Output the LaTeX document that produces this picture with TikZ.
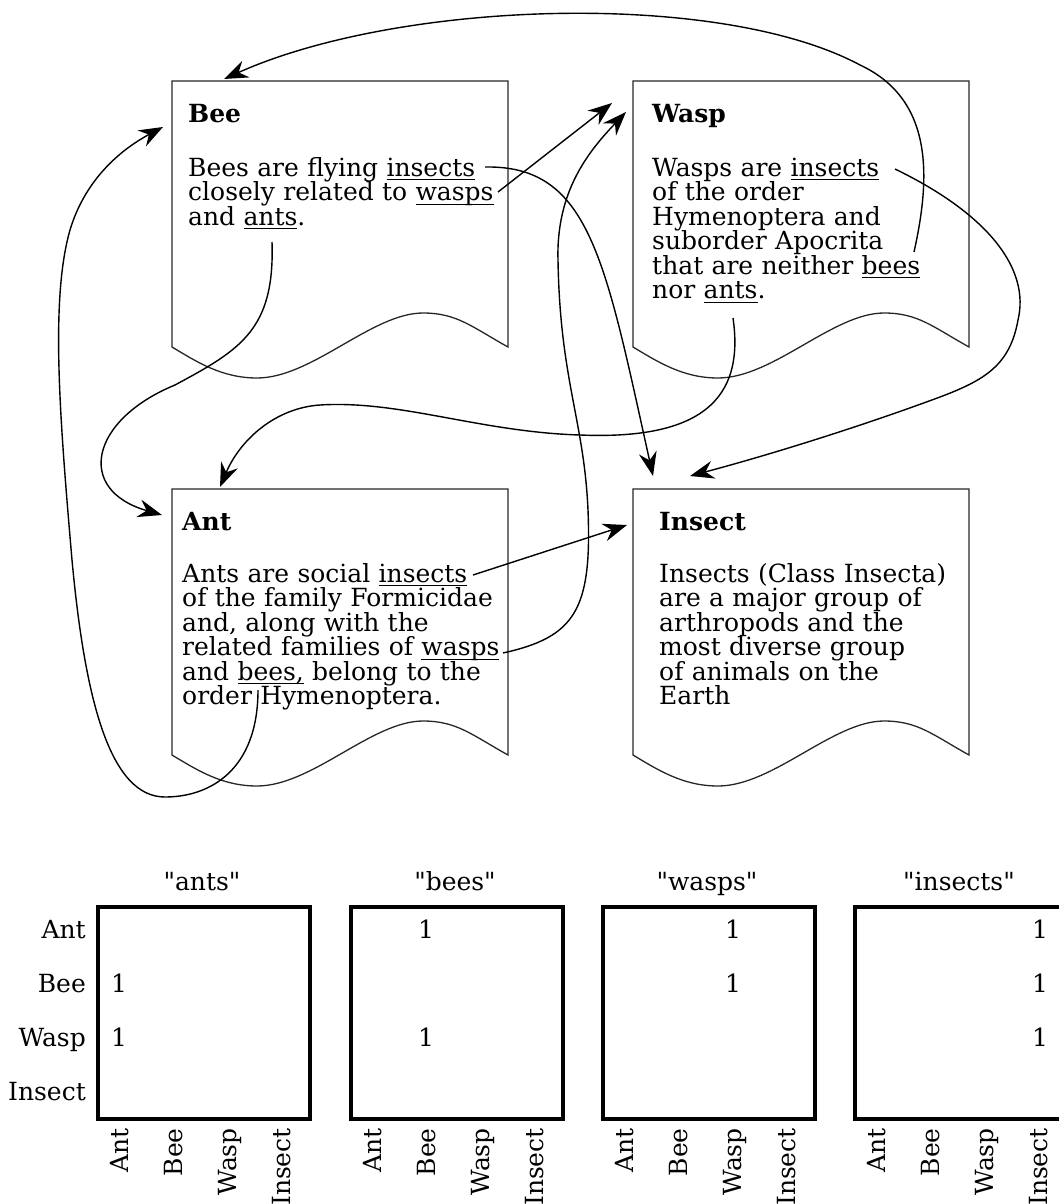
\documentclass[tikz,border=0pt]{standalone}
\usepackage{fontspec}
\setmainfont{DejaVu Serif}
\usetikzlibrary{arrows.meta}
\newcommand\docsize{\fontsize{25}{24.5}\selectfont\lineskiplimit=-50pt\relax}
% underlined link word: a thin rule just under the baseline
\newcommand\linkword[1]{\setbox0=\hbox{#1}\rlap{\rule[-4.2pt]{\wd0}{1.2pt}}\box0\relax}
\begin{document}
\begin{tikzpicture}[x=1pt,y=-1pt,
  docline/.style={draw=black!85, line width=1.3pt, line join=miter},
  docarea/.style={anchor=north west, minimum width=336pt, minimum height=266pt, inner sep=0pt},
  doctitle/.style={font=\bfseries\docsize, anchor=base west, inner sep=0pt},
  docbody/.style={font=\docsize, anchor=base west, inner sep=0pt, text width=340pt, align=left},
  link/.style={draw=black, line width=1.4pt, -{Stealth[length=24pt,width=18pt,inset=8pt]}},
  mbox/.style={draw=black, line width=3.5pt, anchor=north west, minimum width=212pt, minimum height=212pt, inner sep=0pt},
  mtext/.style={font=\docsize, inner sep=0pt},
  paper/.pic={
    \draw[docline] (0,266) -- (0,0) -- (336,0) -- (336,266)
      .. controls (300,246) and (285,232) .. (251,232)
      .. controls (200,232) and (140,297) .. (85,297)
      .. controls (50,297) and (25,281) .. cycle;
  }]
\useasboundingbox (0,0) rectangle (1059,1204);

% ---------- the four documents ----------
\node[docarea] (bee) at (172,81) {};
\node[docarea] (wasp) at (633,81) {};
\node[docarea] (ant) at (172,489) {};
\node[docarea] (insect) at (633,489) {};
\path (bee.north west) pic {paper};
\path (wasp.north west) pic {paper};
\path (ant.north west) pic {paper};
\path (insect.north west) pic {paper};

\node[doctitle] (beeT) at (188,123) {Bee};
\node[docbody] (beeB) at (188,176) {Bees are flying \linkword{insects}\\closely related to \linkword{wasps}\\and \linkword{ants}.};

\node[doctitle] (waspT) at (652,123) {Wasp};
\node[docbody] (waspB) at (652,176) {Wasps are \linkword{insects}\\of the order\\Hymenoptera and\\suborder Apocrita\\that are neither \linkword{bees}\\nor \linkword{ants}.};

\node[doctitle] (antT) at (182,530) {Ant};
\node[docbody] (antB) at (182,582) {Ants are social \linkword{insects}\\of the family Formicidae\\and, along with the\\related families of \linkword{wasps}\\and \linkword{bees,} belong to the\\order Hymenoptera.};

\node[doctitle] (insectT) at (659,530) {Insect};
\node[docbody] (insectB) at (659,582) {Insects (Class Insecta)\\are a major group of\\arthropods and the\\most diverse group\\of animals on the\\Earth};

% ---------- link ends ----------
\coordinate (bIns) at (485,167);
\coordinate (bWas) at (498,192);
\coordinate (bAnt) at (272,242);
\coordinate (wIns) at (895,169);
\coordinate (wBee) at (914,252);
\coordinate (wAnt) at (733,318);
\coordinate (aIns) at (473,575);
\coordinate (aWas) at (503,653);
\coordinate (aBee) at (258,690);

\coordinate (toInsA) at (653,476);
\coordinate (toInsB) at (690,476);
\coordinate (toInsC) at (627,525);
\coordinate (toWasA) at (612,103);
\coordinate (toWasB) at (626,112);
\coordinate (toBeeA) at (224,79);
\coordinate (toBeeB) at (163,127);
\coordinate (toAntA) at (220,487);
\coordinate (toAntB) at (162,515);

% ---------- links ----------
\draw[link] (bIns) .. controls (590,165) and (605,260) .. (toInsA);
\draw[link] (bWas) -- (toWasA);
\draw[link] (bAnt) .. controls (275,330) and (240,350) .. (175,385)
                   .. controls (90,420) and (75,490) .. (toAntB);
\draw[link] (wBee) .. controls (930,180) and (935,100) .. (860,65)
                   .. controls (720,-10) and (400,0) .. (toBeeA);
\draw[link] (wIns) .. controls (990,215) and (1030,270) .. (1018,320)
                   .. controls (1010,365) and (985,380) .. (940,397)
                   .. controls (870,423) and (780,452) .. (toInsB);
\draw[link] (wAnt) .. controls (745,400) and (700,440) .. (580,435)
                   .. controls (480,432) and (400,400) .. (320,405)
                   .. controls (275,408) and (240,440) .. (toAntA);
\draw[link] (aIns) -- (toInsC);
\draw[link] (aWas) .. controls (575,637) and (592,610) .. (588,510)
                   .. controls (584,420) and (560,380) .. (558,260)
                   .. controls (556,190) and (590,150) .. (toWasB);
\draw[link] (aBee) .. controls (258,770) and (210,797) .. (165,797)
                   .. controls (110,797) and (85,700) .. (72,560)
                   .. controls (60,420) and (50,300) .. (70,230)
                   .. controls (85,180) and (120,150) .. (toBeeB);

% ---------- term matrices ----------
\node[mbox] (mAnts) at (96,905) {};
\node[mbox] (mBees) at (349,905) {};
\node[mbox] (mWasps) at (601,905) {};
\node[mbox] (mInsects) at (853,905) {};

\node[mtext, anchor=base] (tAnts) at (202,890) {\textquotedbl ants\textquotedbl};
\node[mtext, anchor=base] (tBees) at (455,890) {\textquotedbl bees\textquotedbl};
\node[mtext, anchor=base] (tWasps) at (707,890) {\textquotedbl wasps\textquotedbl};
\node[mtext, anchor=base] (tInsects) at (959,890) {\textquotedbl insects\textquotedbl};

\foreach \lab [count=\i from 0] in {Ant,Bee,Wasp,Insect}
  \node[mtext, anchor=base east] (row\i) at (86,938+54*\i) {\lab};

\foreach \bx in {96,349,601,853}
  \foreach \lab [count=\i from 0] in {Ant,Bee,Wasp,Insect}
    \node[mtext, rotate=90, anchor=base east] (col\bx-\i) at (\bx+23+54*\i+9,1128) {\lab};

% entries equal to one
\node[mtext, anchor=base] (e1) at (119,992) {1};
\node[mtext, anchor=base] (e2) at (119,1046) {1};
\node[mtext, anchor=base] (e3) at (426,938) {1};
\node[mtext, anchor=base] (e4) at (426,1046) {1};
\node[mtext, anchor=base] (e5) at (733,938) {1};
\node[mtext, anchor=base] (e6) at (733,992) {1};
\node[mtext, anchor=base] (e7) at (1040,938) {1};
\node[mtext, anchor=base] (e8) at (1040,992) {1};
\node[mtext, anchor=base] (e9) at (1040,1046) {1};
\end{tikzpicture}
\end{document}
